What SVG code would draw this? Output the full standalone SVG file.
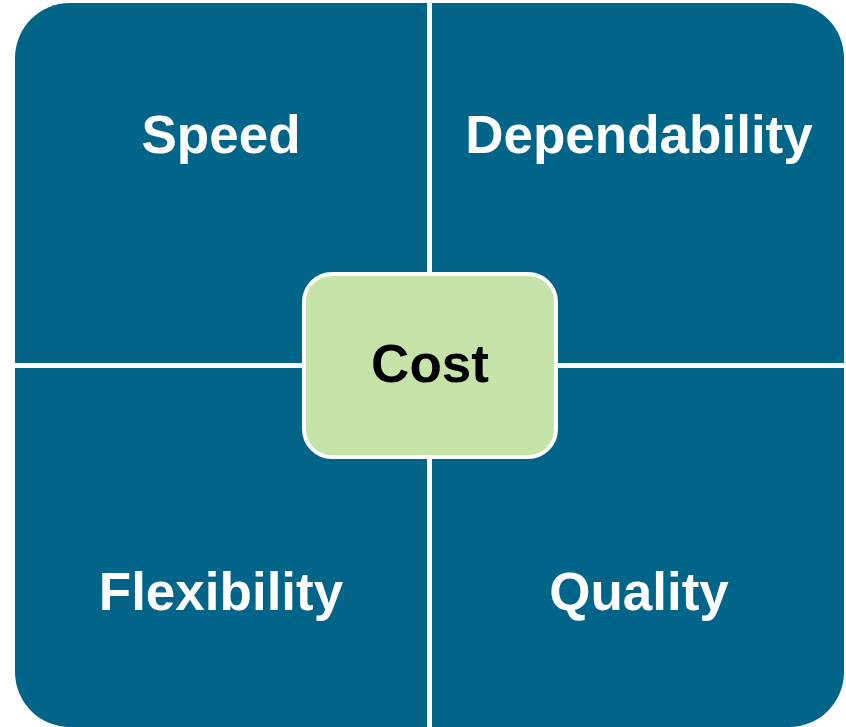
<svg xmlns="http://www.w3.org/2000/svg" width="846" height="727" viewBox="0 0 846 727">
<style>
.lbl{font-family:"Liberation Sans",Arial,sans-serif;font-weight:bold;font-size:53px;text-anchor:middle}
.w{fill:#ffffff}
.k{fill:#000000}
.sep{stroke:#ffffff;stroke-width:5}
</style>
<rect width="846" height="727" fill="#ffffff"/>
<g id="quadrants">
<rect x="15" y="3" width="829" height="724" rx="55" ry="55" fill="#006589"/>
</g>
<g id="connectors">
<line class="sep" x1="429.5" y1="0" x2="429.5" y2="727"/>
<line class="sep" x1="0" y1="365.5" x2="846" y2="365.5"/>
</g>
<g id="speed"><text class="lbl w" x="221" y="153">Speed</text></g>
<g id="dependability"><text class="lbl w" x="639" y="153">Dependability</text></g>
<g id="flexibility"><text class="lbl w" x="221" y="610">Flexibility</text></g>
<g id="quality"><text class="lbl w" x="639" y="610">Quality</text></g>
<g id="cost">
<rect x="304" y="274" width="252" height="183" rx="28" ry="28" fill="#C6E3A9" stroke="#ffffff" stroke-width="4"/>
<text class="lbl k" x="430" y="382">Cost</text>
</g>
</svg>
